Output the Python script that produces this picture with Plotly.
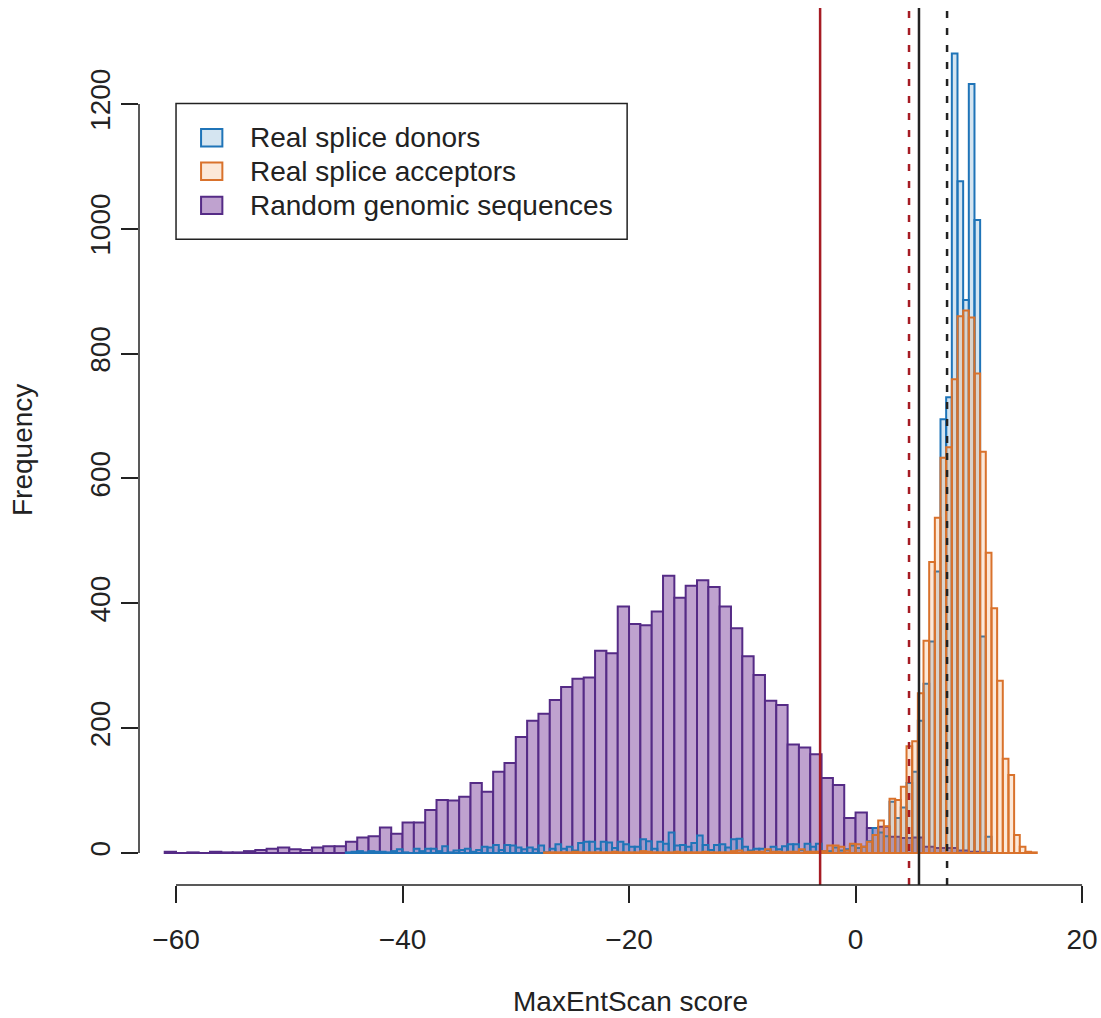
import numpy as np
import plotly.graph_objects as go

# ---------------- data ----------------
# Random genomic sequences: bins of width 1 starting at -61
random_start = -61.0
random_width = 1.0
random_counts = [
    2, 0, 1, 0, 2, 1, 1, 3, 5, 7,
    9, 6, 5, 9, 11, 11, 18, 25, 27, 41,
    31, 49, 49, 69, 85, 84, 90, 112, 98, 130,
    144, 186, 212, 223, 245, 266, 279, 281, 324, 320,
    395, 367, 365, 387, 444, 409, 428, 437, 426, 395,
    360, 315, 285, 244, 237, 174, 169, 158, 120, 109,
    56, 65, 40, 42, 26, 24, 25, 10, 8, 8,
    4, 2, 1,
]

# Real splice donors: bins of width 0.5 starting at -45
donor_start = -45.0
donor_width = 0.5
donor_counts = [
    1, 2, 3, 1, 3, 2, 2, 1, 3, 6,
    1, 0, 7, 3, 7, 7, 3, 11, 1, 4,
    5, 7, 2, 5, 10, 9, 13, 5, 13, 12,
    9, 6, 9, 6, 12, 1, 7, 14, 7, 10,
    4, 16, 18, 18, 7, 18, 17, 8, 18, 14,
    10, 10, 22, 19, 7, 18, 15, 33, 12, 13,
    10, 16, 28, 13, 5, 13, 14, 9, 22, 23,
    10, 4, 7, 7, 5, 10, 6, 11, 14, 14,
    5, 15, 10, 15, 3, 3, 9, 4, 6, 12,
    8, 10, 19, 40, 33, 27, 82, 56, 73, 112,
    130, 212, 271, 339, 451, 695, 730, 1281, 1076, 886,
    1232, 1014, 347, 26,
]

# Real splice acceptors: bins of width 0.5 starting at -27.5
acceptor_start = -27.5
acceptor_width = 0.5
acceptor_counts = [
    1, 1, 1, 1, 1, 2, 1, 1, 1, 1,
    1, 1, 2, 1, 1, 1, 1, 3, 2, 1,
    1, 1, 1, 2, 1, 1, 1, 1, 2, 1,
    1, 1, 1, 3, 4, 1, 2, 2, 2, 6,
    2, 2, 1, 2, 2, 6, 2, 2, 2, 3,
    12, 12, 10, 4, 15, 14, 10, 18, 29, 52,
    43, 87, 85, 106, 171, 179, 256, 340, 466, 537,
    633, 650, 759, 860, 869, 858, 768, 643, 481, 392,
    276, 151, 125, 29, 10, 2, 1,
]

# threshold lines (score values)
red_solid_x = -3.13
red_dashed_x = 4.72
black_solid_x = 5.6
black_dashed_x = 8.08

x_ticks = [-60, -40, -20, 0, 20]
y_ticks = [0, 200, 400, 600, 800, 1000, 1200]

legend_labels = ["Real splice donors", "Real splice acceptors", "Random genomic sequences"]

# ---------------- styles ----------------
FONT = "Liberation Sans, Arial, Helvetica, sans-serif"
TXT = "#222222"
RED = "#a61c24"
purple_line, purple_fill = "#552b86", "#bfa2cf"
blue_line, blue_fill = "#1f74b8", "rgba(31,119,180,0.19)"
orange_line, orange_fill = "#d9722c", "rgba(240,140,60,0.20)"


def centers(start, width, n):
    return start + width * np.arange(n) + width / 2.0


fig = go.Figure()
for start, width, counts, fill, line in [
    (random_start, random_width, random_counts, purple_fill, purple_line),
    (donor_start, donor_width, donor_counts, blue_fill, blue_line),
    (acceptor_start, acceptor_width, acceptor_counts, orange_fill, orange_line),
]:
    fig.add_trace(go.Bar(
        x=centers(start, width, len(counts)), y=counts, width=width,
        marker=dict(color=fill, line=dict(color=line, width=2)),
        hoverinfo="x+y",
    ))

# plot geometry (pixels); page body margin is removed in post_script
L, R, T, B = 139, 5, 8, 133
W, H = 1101, 1018
x_range = [-63.27, 21.23]
y_range = [-51.27, 1353.7]

shapes = []
# vertical threshold lines
for xv, col, dash in [
    (red_solid_x, RED, "solid"),
    (red_dashed_x, RED, "7px,10px"),
    (black_solid_x, TXT, "solid"),
    (black_dashed_x, TXT, "7px,10px"),
]:
    shapes.append(dict(type="line", xref="x", yref="paper", x0=xv, x1=xv, y0=0, y1=1,
                       line=dict(color=col, width=2.5, dash=dash), layer="above"))

# R-style detached axis lines
shapes.append(dict(type="line", xref="x", yref="paper", x0=x_ticks[0], x1=x_ticks[-1], y0=0, y1=0,
                   line=dict(color=TXT, width=1.5), layer="above"))
shapes.append(dict(type="line", xref="paper", yref="y", x0=0, x1=0, y0=y_ticks[0], y1=y_ticks[-1],
                   line=dict(color=TXT, width=1.5), layer="above"))

# legend box
shapes.append(dict(type="rect", xref="x", yref="y", x0=-60, x1=-20.17, y0=983.4, y1=1200.6,
                   line=dict(color=TXT, width=1.5), fillcolor="white", layer="above"))
annotations = []
row_y = [1145.8, 1092.1, 1037.6]
for yc, (fill, line), lab in zip(row_y, [(blue_fill, blue_line), (orange_fill, orange_line),
                                          (purple_fill, purple_line)], legend_labels):
    shapes.append(dict(type="rect", xref="x", yref="y", x0=-57.79, x1=-55.91, y0=yc - 13.9, y1=yc + 13.9,
                       line=dict(color=line, width=2), fillcolor=fill, layer="above"))
    annotations.append(dict(x=-53.62, y=yc, xref="x", yref="y", text=lab, showarrow=False,
                            xanchor="left", yanchor="middle", font=dict(size=28, color=TXT, family=FONT)))

pw = W - L - R
ph = H - T - B
annotations.append(dict(x=(630 - L) / pw, y=(H - B - 1001) / ph, xref="paper", yref="paper",
                        text="MaxEntScan score", showarrow=False, xanchor="center", yanchor="middle",
                        font=dict(size=28, color=TXT, family=FONT)))
annotations.append(dict(x=(22 - L) / pw, y=(H - B - 450) / ph, xref="paper", yref="paper",
                        text="Frequency", showarrow=False, xanchor="center", yanchor="middle",
                        textangle=-90, font=dict(size=28, color=TXT, family=FONT)))

fig.update_layout(
    width=W, height=H, margin=dict(l=L, r=R, t=T, b=B, autoexpand=False),
    plot_bgcolor="white", paper_bgcolor="white", showlegend=False, barmode="overlay",
    font=dict(family=FONT, size=28, color=TXT),
    shapes=shapes, annotations=annotations,
    xaxis=dict(range=x_range, tickvals=x_ticks, ticktext=[str(v).replace("-", "\u2212") for v in x_ticks],
               ticks="outside", ticklen=17, tickwidth=1.5, tickcolor=TXT, showline=False,
               showgrid=False, zeroline=False, tickfont=dict(size=28, color=TXT, family=FONT),
               ticklabelstandoff=12, ticklabeloverflow="allow"),
    yaxis=dict(range=y_range, tickvals=y_ticks, ticks="outside", ticklen=17, tickwidth=1.5,
               tickcolor=TXT, showline=False, showgrid=False, zeroline=False, tickangle=-90,
               tickfont=dict(size=28, color=TXT, family=FONT), ticklabelstandoff=0),
)

fig.write_html("out.html", config={"displayModeBar": False},
               post_script="document.body.style.margin='0';document.body.style.overflow='hidden';")
